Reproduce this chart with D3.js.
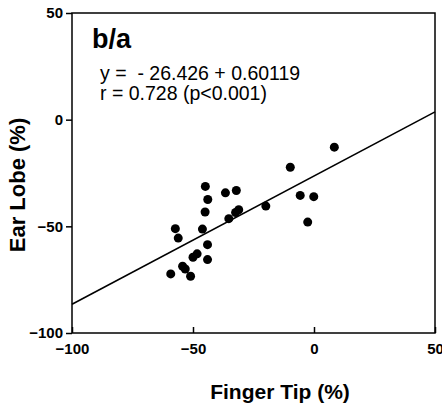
<!DOCTYPE html>
<html>
<head>
<meta charset="utf-8">
<script src="https://cdn.jsdelivr.net/npm/d3@7"></script>
<style>
  body { margin: 0; background: #fff; }
  svg { font-family: "Liberation Sans", Arial, Helvetica, sans-serif; }
  .tick text { font-weight: bold; font-size: 15px; }
</style>
</head>
<body>
<svg width="442" height="412"></svg>
<script>
// finger tip (%) vs ear lobe (%)
const fingerTip = [8.4, -9.8, -44.9, -36.6, -32.1, -43.9, -5.7, -0.1, -45.0, -31.1,
                   -32.4, -19.9, -35.2, -2.6, -57.3, -56.1, -46.1, -44.0, -48.3, -50.0,
                   -44.0, -54.3, -53.2, -51.0, -59.2];
const earLobe = [-12.9, -22.3, -31.3, -34.3, -33.2, -37.4, -35.5, -36.1, -43.3, -42.2,
                 -43.5, -40.5, -46.4, -48.0, -51.1, -55.5, -51.3, -58.6, -62.9, -64.5,
                 -65.6, -68.7, -70.0, -73.4, -72.3];
const xTicks = [-100, -50, 0, 50];
const yTicks = [-100, -50, 0, 50];
const intercept = -26.426, slope = 0.60119;

const svg = d3.select('svg');
const plotLeft = 72, plotRight = 435, plotTop = 13, plotBottom = 333;

const xScale = d3.scaleLinear().domain([-100, 50]).range([plotLeft, plotRight]);
const yScale = d3.scaleLinear().domain([-100, 50]).range([plotBottom, plotTop]);

// frame
svg.append('rect')
  .attr('x', plotLeft).attr('y', plotTop)
  .attr('width', plotRight - plotLeft).attr('height', plotBottom - plotTop)
  .attr('fill', 'none').attr('stroke', '#000').attr('stroke-width', 1.5);

const xAxis = d3.axisBottom(xScale).tickValues(xTicks).tickSize(-6).tickPadding(13).tickFormat(d3.format('d'));
const yAxis = d3.axisLeft(yScale).tickValues(yTicks).tickSize(6).tickPadding(3).tickFormat(d3.format('d'));

svg.append('g')
  .attr('transform', `translate(0, ${plotBottom})`)
  .call(xAxis)
  .call(g => g.select('.domain').remove())
  .call(g => g.selectAll('.tick line').attr('stroke-width', 1.5))
  .call(g => g.selectAll('.tick text').attr('fill', '#000').attr('dy', '0.5em'));

svg.append('g')
  .attr('transform', `translate(${plotLeft}, 0)`)
  .call(yAxis)
  .call(g => g.select('.domain').remove())
  .call(g => g.selectAll('.tick line').attr('stroke-width', 1.5))
  .call(g => g.selectAll('.tick text').attr('fill', '#000'));

// regression line
svg.append('line')
  .attr('x1', xScale(-100)).attr('y1', yScale(intercept + slope * -100))
  .attr('x2', xScale(50)).attr('y2', yScale(intercept + slope * 50))
  .attr('stroke', '#000').attr('stroke-width', 1.6);

// points
svg.selectAll('circle')
  .data(fingerTip.map((x, i) => ({ x, y: earLobe[i] })))
  .enter()
  .append('circle')
    .attr('cx', d => xScale(d.x))
    .attr('cy', d => yScale(d.y))
    .attr('r', 4.5)
    .attr('fill', '#000');

// annotations
svg.append('text')
  .attr('x', 92).attr('y', 48)
  .style('font-weight', 'bold').style('font-size', '27px')
  .text('b/a');

svg.append('text')
  .attr('x', 100).attr('y', 80)
  .style('font-size', '19.5px')
  .style('white-space', 'pre')
  .text('y =  - 26.426 + 0.60119');

svg.append('text')
  .attr('x', 100).attr('y', 100)
  .style('font-size', '19.5px')
  .text('r = 0.728 (p<0.001)');

// axis titles
svg.append('text')
  .attr('x', 280).attr('y', 399)
  .attr('text-anchor', 'middle')
  .style('font-weight', 'bold').style('font-size', '21px')
  .text('Finger Tip (%)');

svg.append('text')
  .attr('transform', 'rotate(-90)')
  .attr('x', -185).attr('y', 25)
  .attr('text-anchor', 'middle')
  .style('font-weight', 'bold').style('font-size', '22px')
  .text('Ear Lobe (%)');
</script>
</body>
</html>
